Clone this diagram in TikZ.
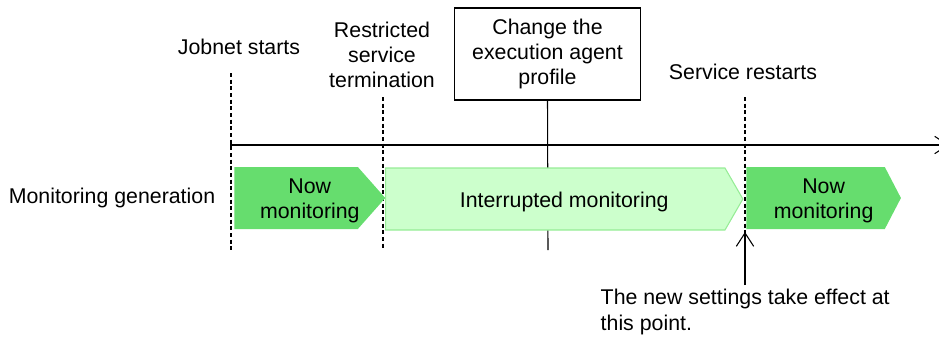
\documentclass[tikz,border=0pt]{standalone}
\usepackage{fontspec}
\setmainfont{Liberation Sans}
\usepackage{tikz}
\usetikzlibrary{shapes.symbols, arrows.meta, calc}
\definecolor{nowgreen}{RGB}{102,221,110}
\definecolor{intfill}{RGB}{204,255,204}
\definecolor{intline}{RGB}{150,236,150}

\begin{document}
\begin{tikzpicture}[x=0.75pt,y=-0.75pt,
    font=\fontsize{16}{19}\selectfont,
    tick/.style={thick,dashed,dash pattern=on 3pt off 2pt},
    phase/.style={signal, signal to=east, signal from=nowhere, minimum height=46.5pt, inner sep=0pt, anchor=west},
    phasetext/.style={align=center, yshift=-2pt},
    tip/.style={-{Straight Barb[length=10pt,width=13pt]}, thick}]
    \useasboundingbox (0,0) rectangle (939,344);
    \clip (0,0) rectangle (939,344);
    % timeline
    \coordinate (t0) at (230,145);
    \coordinate (tend) at (949,145);
    \draw[tip] (t0) -- (tend);
    % events
    \node (jobnet) at (239,47) {Jobnet starts};
    \node[align=center] (stop) at (382,55) {Restricted\\service\\termination};
    \node[draw,thick,align=center,minimum width=140pt,minimum height=69pt] (change) at (547.5,54) {Change the\\execution agent\\profile};
    \node (restart) at (743,72) {Service restarts};
    \draw[tick] (231,73) -- (231,250);
    \draw[tick] (383,97) -- (383,250);
    \draw[tick] (745,97) -- (745,250);
    \draw[thick] (change.south) -- (548,250);
    % monitoring generation
    \node (gen) at (112,198) {Monitoring generation};
    \node[phase, fill=nowgreen, signal pointer angle=97, minimum width=113.25pt] (now1) at (234,198) {};
    \node[phase, fill=intfill, draw=intline, thick, signal pointer angle=120, minimum width=268pt] (intr) at (385,199) {};
    \node[phase, fill=nowgreen, signal pointer angle=125, minimum width=116pt] (now2) at (746,198) {};
    \node[phasetext] (now1txt) at ($(now1.west)!.5!(now1.east)$) {Now\\monitoring};
    \node[phasetext] (intrtxt) at ($(intr.west)!.5!(intr.east)$) {Interrupted monitoring};
    \node[phasetext] (now2txt) at ($(now2.west)!.5!(now2.east)$) {Now\\monitoring};
    % note
    \node[anchor=west,align=left] (note) at (596,312) {The new settings take effect at\\this point.};
    \coordinate (notetop) at (745,285);
    \draw[tip] (notetop) -- (745,232);
\end{tikzpicture}
\end{document}
